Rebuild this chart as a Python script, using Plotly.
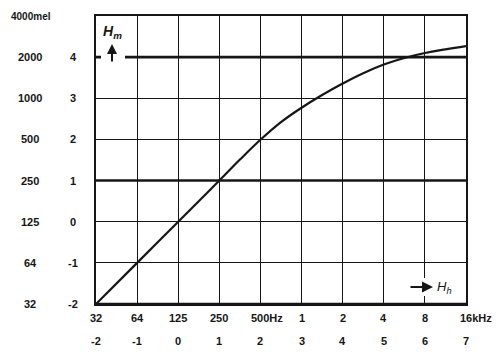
import numpy as np
import plotly.graph_objects as go

# ---- data ----
freq_hz = [31.25, 62.5, 125, 250, 354, 500, 707, 1000, 1414, 2000, 2828, 4000, 5657, 8000, 11314, 16000]
pitch_mel = [31.25, 62.5, 125, 250, 356, 497, 669, 853, 1057, 1283, 1527, 1766, 1973, 2144, 2282, 2412]

x_tick_vals = [31.25, 62.5, 125, 250, 500, 1000, 2000, 4000, 8000, 16000]
x_tick_text = ["32", "64", "125", "250", "500Hz", "1", "2", "4", "8", "16kHz"]
x_oct_text = ["-2", "-1", "0", "1", "2", "3", "4", "5", "6", "7"]

y_tick_vals = [31.25, 62.5, 125, 250, 500, 1000, 2000, 4000]
y_tick_text = ["32", "64", "125", "250", "500", "1000", "2000", "4000mel"]
y_oct_text = ["-2", "-1", "0", "1", "2", "3", "4", ""]

thick_y = [250, 2000]

# ---- layout geometry (pixels) ----
W, H = 500, 352
L, R, T, B = 96, 34, 16, 48
pw, ph = W - L - R, H - T - B


def px_x(p):
    return (p - L) / pw


def px_y(p):
    return (H - B - p) / ph


INK = "#161616"
FONT = dict(family="Liberation Sans, Arial, sans-serif", size=11, color=INK)

fig = go.Figure()

for v in thick_y:
    fig.add_trace(go.Scatter(x=[x_tick_vals[0], x_tick_vals[-1]], y=[v, v], mode="lines",
                             line=dict(color=INK, width=2.6), hoverinfo="skip", showlegend=False))

fig.add_trace(go.Scatter(x=freq_hz, y=pitch_mel, mode="lines",
                         line=dict(color=INK, width=2.2, shape="spline", smoothing=1.2),
                         showlegend=False))

annotations = []
for v, t, o in zip(x_tick_vals, x_tick_text, x_oct_text):
    if t.endswith("Hz"):
        annotations.append(dict(x=np.log10(v), y=px_y(318), xref="x", yref="paper", text="<b>%s</b>" % t,
                                showarrow=False, xanchor="left", yanchor="middle",
                                xshift=-11 if t == "500Hz" else -8, font=FONT))
    else:
        annotations.append(dict(x=np.log10(v), y=px_y(318), xref="x", yref="paper", text="<b>%s</b>" % t,
                                showarrow=False, xanchor="center", yanchor="middle", font=FONT))
    annotations.append(dict(x=np.log10(v), y=px_y(341), xref="x", yref="paper", text="<b>%s</b>" % o,
                            showarrow=False, xanchor="center", yanchor="middle", font=FONT))

for v, t, o in zip(y_tick_vals, y_tick_text, y_oct_text):
    if t.endswith("mel"):
        annotations.append(dict(x=px_x(9), y=np.log10(v), xref="paper", yref="y", text="<b>%s</b>" % t,
                                showarrow=False, xanchor="left", yanchor="middle",
                                font=dict(family=FONT["family"], size=10, color=INK)))
    else:
        annotations.append(dict(x=px_x(30), y=np.log10(v), xref="paper", yref="y", text="<b>%s</b>" % t,
                                showarrow=False, xanchor="center", yanchor="middle", font=FONT))
    if o:
        annotations.append(dict(x=px_x(73), y=np.log10(v), xref="paper", yref="y", text="<b>%s</b>" % o,
                                showarrow=False, xanchor="center", yanchor="middle", font=FONT))

# axis symbols
annotations.append(dict(x=px_x(112), y=px_y(32), xref="paper", yref="paper",
                        text="<b><i>H<sub>m</sub></i></b>", showarrow=False,
                        xanchor="center", yanchor="middle",
                        font=dict(family=FONT["family"], size=14, color=INK)))
annotations.append(dict(x=px_x(112), y=px_y(44), xref="paper", yref="paper", ax=0, ay=19,
                        axref="pixel", ayref="pixel", text="", showarrow=True, arrowhead=2,
                        arrowsize=1, arrowwidth=2, arrowcolor=INK))
annotations.append(dict(x=px_x(433), y=px_y(287), xref="paper", yref="paper", ax=-24, ay=0,
                        axref="pixel", ayref="pixel", text="", showarrow=True, arrowhead=2,
                        arrowsize=1, arrowwidth=2.2, arrowcolor=INK))
annotations.append(dict(x=px_x(435), y=px_y(287), xref="paper", yref="paper",
                        text="<i>H<sub>h</sub></i>", showarrow=False,
                        xanchor="left", yanchor="middle",
                        font=dict(family=FONT["family"], size=13, color=INK)))

shapes = [
    dict(type="rect", xref="paper", yref="paper", x0=px_x(101), x1=px_x(125), y0=px_y(65), y1=px_y(20),
         fillcolor="white", line=dict(width=0), layer="above"),
    dict(type="rect", xref="paper", yref="paper", x0=px_x(405), x1=px_x(456), y0=px_y(296), y1=px_y(278),
         fillcolor="white", line=dict(width=0), layer="above"),
    dict(type="line", xref="paper", yref="paper", x0=0, x1=1, y0=0, y1=0,
         line=dict(color=INK, width=2.6), layer="above"),
]

axis_common = dict(showgrid=True, gridcolor=INK, gridwidth=1.4, showline=True, linecolor=INK,
                   linewidth=1.6, mirror=True, ticks="", showticklabels=False, zeroline=False)

fig.update_layout(
    width=W, height=H,
    margin=dict(l=L, r=R, t=T, b=B),
    paper_bgcolor="white", plot_bgcolor="white",
    xaxis=dict(type="log", range=[np.log10(x_tick_vals[0]), np.log10(x_tick_vals[-1])],
               tickvals=x_tick_vals, **axis_common),
    yaxis=dict(type="log", range=[np.log10(y_tick_vals[0]), np.log10(y_tick_vals[-1])],
               tickvals=y_tick_vals, **axis_common),
    annotations=annotations,
    shapes=shapes,
    showlegend=False,
)

fig.write_html("out.html")
